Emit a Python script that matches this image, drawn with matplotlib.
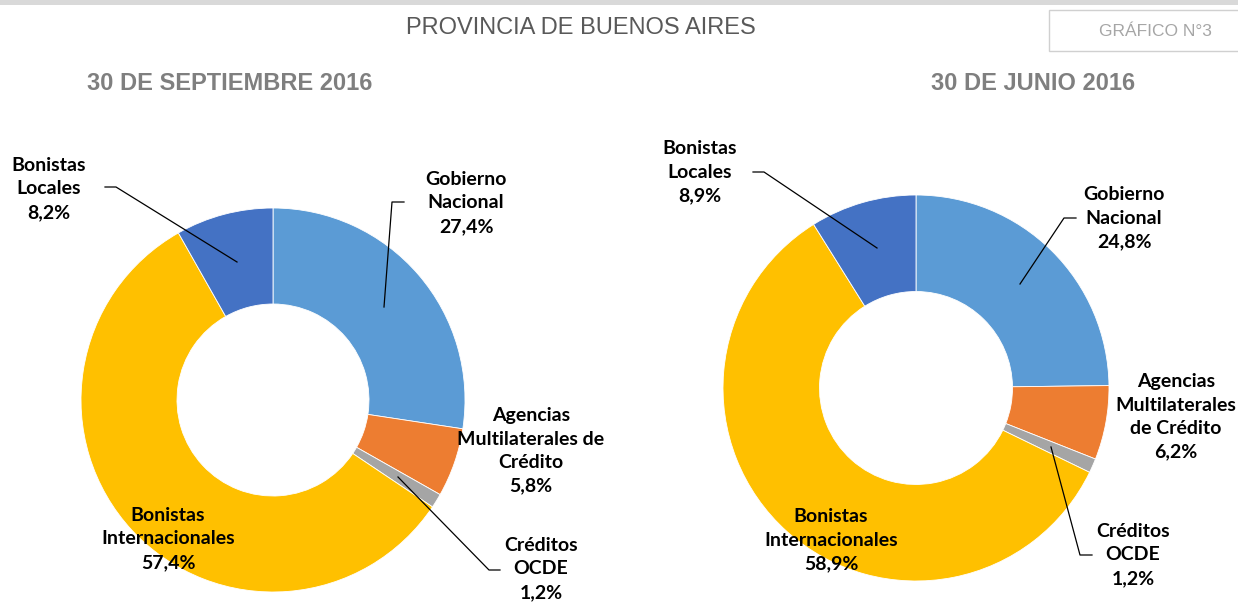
import matplotlib.pyplot as plt
from matplotlib import font_manager
from matplotlib.patches import Rectangle

# Data
categories = ["Gobierno Nacional", "Agencias Multilaterales de Crédito", "Créditos OCDE",
              "Bonistas Internacionales", "Bonistas Locales"]
sep_2016 = [27.4, 5.8, 1.2, 57.4, 8.2]
jun_2016 = [24.8, 6.2, 1.2, 58.9, 8.9]
colors = ["#5B9BD5", "#ED7D31", "#A5A5A5", "#FFC000", "#4472C4"]

available = {f.name for f in font_manager.fontManager.ttflist}


def pick(*names):
    for n in names:
        if n in available:
            return n
    return "DejaVu Sans"


narrow = pick("Liberation Sans Narrow", "Liberation Sans")
label_font = pick("Lato", "Open Sans", "DejaVu Sans")

W, H = 1238, 605
fig = plt.figure(figsize=(W / 100, H / 100), dpi=100)
ax = fig.add_axes([0, 0, 1, 1])


def Y(y):
    # pixel row -> data y (y axis points up)
    return H - y


def donut(values, cx, cy, r):
    ax.pie(values, colors=colors, startangle=90, counterclock=False,
           center=(cx, Y(cy)), radius=r,
           wedgeprops=dict(width=r * 0.5, edgecolor="white", linewidth=0.6))


def label(text, x, y, leader=None):
    ax.text(x, Y(y), text, ha="center", va="center", fontsize=14,
            fontweight="bold", family=label_font, linespacing=1.46, color="black")
    if leader:
        xs = [p[0] for p in leader]
        ys = [Y(p[1]) for p in leader]
        ax.plot(xs, ys, color="black", lw=0.9)


# left donut: 30 de septiembre 2016
donut(sep_2016, 273, 400, 192)
label("Gobierno\nNacional\n27,4%", 466, 203, [(404, 202), (392, 202), (384, 307)])
label("Agencias\nMultilaterales de\nCrédito\n5,8%", 531, 451)
label("Créditos\nOCDE\n1,2%", 541, 569, [(500, 570), (489, 570), (398, 477)])
label("Bonistas\nInternacionales\n57,4%", 168, 539)
label("Bonistas\nLocales\n8,2%", 49, 189, [(105, 187), (116, 187), (237, 262)])

# right donut: 30 de junio 2016
donut(jun_2016, 916, 388, 193)
label("Gobierno\nNacional\n24,8%", 1124, 218, [(1076, 218), (1064, 218), (1020, 284)])
label("Agencias\nMultilaterales\nde Crédito\n6,2%", 1176, 417)
label("Créditos\nOCDE\n1,2%", 1133, 555, [(1092, 555), (1080, 555), (1051, 447)])
label("Bonistas\nInternacionales\n58,9%", 831, 540)
label("Bonistas\nLocales\n8,9%", 700, 172, [(753, 172), (764, 172), (877, 248)])

# header
ax.add_patch(Rectangle((0, Y(5)), W, 5, color="#d9d9d9", lw=0))
ax.text(581, Y(28), "PROVINCIA DE BUENOS AIRES", ha="center", va="center",
        fontsize=17, family=narrow, color="#595959")
ax.add_patch(Rectangle((1049, Y(51)), 200, 41, facecolor="white",
                       edgecolor="#d0d0d0", lw=1))
ax.text(1155, Y(32), "GRÁFICO N°3", ha="center", va="center",
        fontsize=12.5, family=narrow, color="#a6a6a6")
ax.text(230, Y(84), "30 DE SEPTIEMBRE 2016", ha="center", va="center",
        fontsize=17, fontweight="bold", family=narrow, color="#7f7f7f")
ax.text(1033, Y(84), "30 DE JUNIO 2016", ha="center", va="center",
        fontsize=17, fontweight="bold", family=narrow, color="#7f7f7f")

ax.set_xlim(0, W)
ax.set_ylim(0, H)
ax.set_aspect("equal")
ax.axis("off")

fig.savefig("out.png", dpi=100)
